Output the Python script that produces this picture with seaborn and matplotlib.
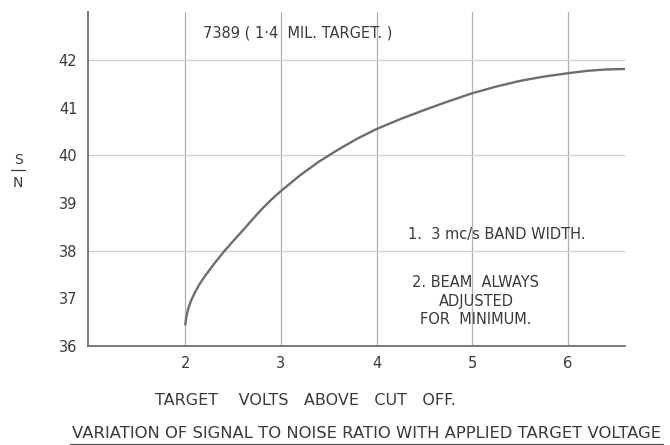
import numpy as np
import pandas as pd
import matplotlib.pyplot as plt
import seaborn as sns

# curve
target_volts = [2.0, 2.01, 2.03, 2.06, 2.1, 2.15, 2.2, 2.3, 2.4, 2.5, 2.6, 2.7, 2.8, 2.9, 3.0,
                3.2, 3.4, 3.6, 3.8, 4.0, 4.25, 4.5, 4.75, 5.0, 5.25, 5.5, 5.75, 6.0, 6.2, 6.4, 6.6]
sn_ratio = [36.45, 36.6, 36.78, 36.95, 37.12, 37.3, 37.45, 37.72, 37.97, 38.2, 38.42, 38.65, 38.87, 39.07, 39.25,
            39.58, 39.87, 40.12, 40.35, 40.55, 40.76, 40.95, 41.13, 41.3, 41.44, 41.56, 41.65, 41.72, 41.77, 41.8, 41.81]
x_ticks = [2, 3, 4, 5, 6]
y_ticks = [36, 37, 38, 39, 40, 41, 42]
y_grid = [38, 40, 42]

ink = '#3a3a3a'
sns.set_style('white')
plt.rcParams['font.family'] = ['DejaVu Sans']

fig = plt.figure(figsize=(6.7, 4.45), dpi=100)
ax = fig.add_axes([0.131, 0.2225, 0.802, 0.75])

df = pd.DataFrame({'volts': target_volts, 'sn': sn_ratio})
sns.lineplot(data=df, x='volts', y='sn', ax=ax, color='#6e6e6e', linewidth=1.7)

for v in x_ticks:
    ax.axvline(v, color='#b0b0b0', linewidth=0.9, zorder=0)
for v in y_grid:
    ax.axhline(v, color='#d0d0d0', linewidth=0.9, zorder=0)

ax.set_xlim(0.98, 6.6)
ax.set_ylim(36, 43.0)
ax.set_xticks(x_ticks)
ax.set_yticks(y_ticks)
ax.tick_params(axis='both', colors='#777777', labelcolor=ink, labelsize=10.5, length=4, width=0.8)
ax.tick_params(axis='x', pad=3)
sns.despine(ax=ax)
for s in ['left', 'bottom']:
    ax.spines[s].set_color('#6e6e6e')
    ax.spines[s].set_linewidth(1.3)
ax.set_xlabel('')
ax.set_ylabel('')

ax.text(2.19, 42.57, '7389 ( 1·4  MIL. TARGET. )', fontsize=10.5, color=ink, va='center', ha='left')
ax.text(5.26, 38.33, '1.  3 mc/s BAND WIDTH.', fontsize=10.5, color=ink, ha='center', va='center')
ax.text(5.04, 36.94, '2. BEAM  ALWAYS\nADJUSTED\nFOR  MINIMUM.', fontsize=10.5, color=ink,
        ha='center', va='center', linespacing=1.3)

fig.text(0.027, 0.64, 'S', fontsize=10, color=ink, ha='center', va='center')
fig.add_artist(plt.Line2D([0.017, 0.037], [0.617, 0.617], color=ink, linewidth=0.9))
fig.text(0.027, 0.589, 'N', fontsize=10, color=ink, ha='center', va='center')

fig.text(0.456, 0.101, 'TARGET    VOLTS   ABOVE   CUT   OFF.', fontsize=11.5, color=ink, ha='center', va='center')
fig.text(0.547, 0.025, 'VARIATION OF SIGNAL TO NOISE RATIO WITH APPLIED TARGET VOLTAGE',
         fontsize=11.8, color=ink, ha='center', va='center')
fig.add_artist(plt.Line2D([0.105, 0.99], [0.003, 0.003], color='#555555', linewidth=0.9))

fig.savefig('out.png', dpi=100)
